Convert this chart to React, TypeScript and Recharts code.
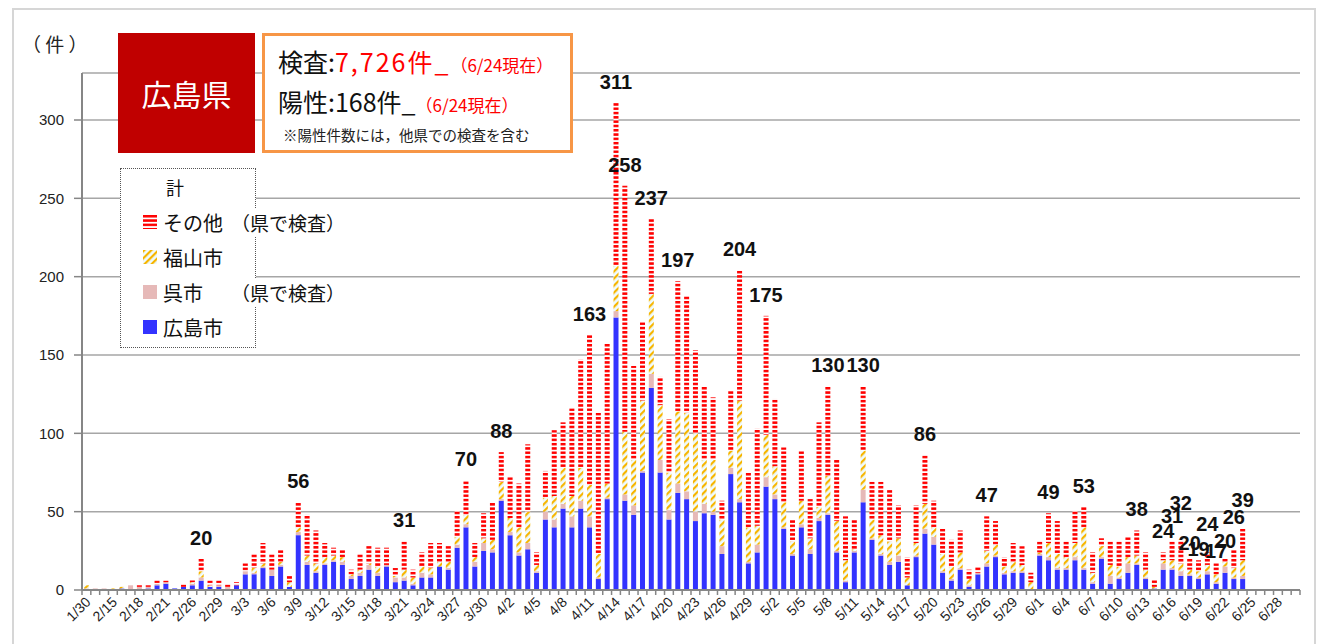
import React from 'react';
import { BarChart, Bar, XAxis, YAxis, CartesianGrid, LabelList } from 'recharts';

// ---------- categories ----------
const monthDays = (m: number, from: number, to: number): string[] => {
  const out: string[] = [];
  for (let d = from; d <= to; d++) out.push(`${m}/${d}`);
  return out;
};
const dates: string[] = [
  '1/30', '2/13', '2/14',
  ...monthDays(2, 15, 21),
  '2/24', '2/25',
  ...monthDays(2, 26, 29),
  ...monthDays(3, 1, 31),
  ...monthDays(4, 1, 30),
  ...monthDays(5, 1, 31),
  ...monthDays(6, 1, 30),
];

// ---------- series (1/30 .. 6/24) ----------
const hiroshima: number[] = [
  0, 0, 0, 0, 1, 0, 0, 1, 3, 4, 1, 2, 3, 6, 2, 2, 0, 3,
  10, 10, 14, 9, 15, 2, 35, 16, 11, 16, 18, 16, 7, 9, 13, 9, 15, 5, 6, 3, 8, 8, 15, 13, 27, 40, 15, 25, 24,
  57, 35, 22, 26, 11, 45, 40, 52, 40, 52, 40, 7, 58, 174, 57, 48, 75, 129, 75, 45, 62, 58, 44, 49, 48, 23, 74, 56, 17, 24,
  66, 58, 39, 22, 40, 23, 44, 48, 24, 5, 24, 56, 32, 22, 16, 18, 3, 21, 36, 29, 11, 6, 13, 2, 10, 15, 21, 10, 11, 11, 0,
  22, 19, 13, 13, 19, 13, 4, 20, 4, 7, 11, 16, 7, 1, 13, 13, 9, 9, 7, 10, 4, 11, 7, 7,
];
const kure: number[] = [
  1, 1, 1, 0, 0, 3, 2, 1, 1, 1, 0, 0, 1, 2, 0, 1, 2, 0,
  2, 1, 1, 4, 1, 0, 2, 2, 1, 1, 1, 2, 2, 2, 3, 2, 1, 3, 2, 1, 3, 2, 0, 1, 2, 2, 3, 5, 2,
  1, 2, 2, 4, 1, 5, 5, 3, 7, 5, 7, 1, 1, 4, 4, 6, 1, 9, 8, 6, 6, 5, 6, 6, 2, 5, 4, 2, 1, 5,
  6, 3, 1, 1, 2, 3, 2, 1, 1, 1, 1, 8, 1, 1, 2, 4, 0, 1, 3, 5, 1, 1, 1, 1, 1, 2, 1, 1, 1, 1, 0,
  1, 2, 1, 1, 2, 1, 1, 1, 5, 1, 6, 1, 1, 0, 4, 1, 3, 1, 1, 2, 1, 4, 1, 2,
];
const fukuyama: number[] = [
  2, 0, 0, 1, 1, 0, 0, 0, 0, 0, 0, 0, 1, 4, 1, 0, 0, 0,
  0, 3, 2, 0, 2, 3, 3, 4, 5, 4, 3, 3, 1, 2, 1, 4, 0, 1, 5, 4, 4, 4, 3, 4, 5, 6, 3, 3, 6,
  11, 9, 16, 20, 4, 9, 15, 23, 13, 21, 20, 15, 9, 29, 40, 29, 45, 51, 35, 24, 46, 50, 50, 28, 33, 17, 11, 63, 22, 12,
  27, 18, 16, 8, 15, 7, 7, 24, 19, 13, 1, 25, 12, 12, 13, 11, 5, 8, 16, 6, 11, 8, 10, 4, 0, 8, 7, 4, 6, 4, 5,
  1, 9, 9, 7, 9, 26, 6, 7, 7, 7, 4, 5, 5, 1, 2, 5, 5, 3, 4, 4, 5, 3, 6, 10,
];
const other: number[] = [
  0, 0, 0, 0, 0, 0, 1, 1, 2, 1, 0, 2, 2, 8, 3, 3, 2, 2,
  5, 9, 13, 10, 8, 4, 16, 26, 21, 9, 5, 5, 3, 10, 11, 12, 11, 5, 18, 5, 9, 16, 12, 10, 17, 22, 9, 16, 24,
  19, 26, 28, 43, 8, 17, 42, 29, 56, 69, 96, 90, 89, 104, 157, 60, 50, 48, 18, 34, 83, 75, 53, 47, 40, 12, 38, 83, 35, 62,
  76, 43, 35, 14, 32, 25, 54, 57, 39, 28, 19, 41, 24, 34, 33, 21, 13, 24, 31, 17, 16, 17, 14, 6, 4, 22, 15, 6, 12, 12, 6,
  7, 19, 21, 10, 21, 13, 13, 5, 15, 16, 13, 16, 11, 5, 5, 12, 15, 7, 7, 8, 7, 2, 12, 20,
];

// dates whose total (計) is printed above the bar
const labeledDates: string[] = [
  '2/27', '3/9', '3/21', '3/28', '4/1', '4/11', '4/14', '4/15', '4/18', '4/21', '4/28', '5/1',
  '5/8', '5/12', '5/19', '5/26', '6/2', '6/6', '6/12', '6/15', '6/16', '6/17', '6/18', '6/19',
  '6/20', '6/21', '6/22', '6/23', '6/24',
];
const yTicks: number[] = [0, 50, 100, 150, 200, 250, 300];

// label nudges (px) used by the original to reduce overlap
const labelNudge: Record<string, number> = {
  '6/16': -4, '6/17': -16, '6/18': 5, '6/19': 10, '6/20': -7, '6/21': 9, '6/22': 3, '6/23': -11, '6/24': -8,
};

const data = dates.map((d, i) => {
  const has = i < hiroshima.length;
  const total = has ? hiroshima[i] + kure[i] + fukuyama[i] + other[i] : null;
  return {
    date: d,
    hiroshima: has ? hiroshima[i] : null,
    kure: has ? kure[i] : null,
    fukuyama: has ? fukuyama[i] : null,
    other: has ? other[i] : null,
    label: labeledDates.includes(d) && total !== null ? `${d}|${total}` : null,
  };
});

// ---------- layout ----------
const W = 1327;
const H = 644;
const PLOT_LEFT = 82;
const PLOT_RIGHT = 1300;
const BAND = (PLOT_RIGHT - PLOT_LEFT) / dates.length;
const CJK = '"Noto Sans CJK JP", "Noto Sans", sans-serif';
const LATIN = '"Liberation Sans", Arial, sans-serif';

const XTick = (props: any) => {
  const { x, y, payload } = props;
  const idx: number = payload?.index ?? props.index ?? 0;
  const half = BAND / 2;
  return (
    <g>
      <line x1={x - half} x2={x - half} y1={y} y2={y + 5} stroke="#868686" strokeWidth={1.5} />
      {idx === dates.length - 1 && (
        <line x1={x + half} x2={x + half} y1={y} y2={y + 5} stroke="#868686" strokeWidth={1.5} />
      )}
      {idx % 3 === 0 && idx <= 135 && (
        <text
          transform={`translate(${x + 5},${y + 13}) rotate(-45)`}
          textAnchor="end"
          fontSize={14}
          fontFamily={LATIN}
          fill="#222"
        >
          {payload.value}
        </text>
      )}
    </g>
  );
};

const TotalLabel = (props: any) => {
  const { value } = props;
  if (value === null || value === undefined || value === '') return null;
  const [d, total] = String(value).split('|');
  if (!total) return null;
  const vb = props.viewBox || {};
  const x = props.x ?? vb.x;
  const y = props.y ?? vb.y;
  const width = props.width ?? vb.width ?? 0;
  const dy = labelNudge[d] ?? 0;
  return (
    <text
      x={Number(x) + Number(width) / 2}
      y={Number(y) - 14 + dy}
      textAnchor="middle"
      fontSize={20}
      fontWeight="bold"
      fontFamily={LATIN}
      fill="#111"
    >
      {total}
    </text>
  );
};

const Marker = ({ fill }: { fill: string }) => (
  <svg width={14} height={14} style={{ display: 'block' }}>
    <rect x={0} y={0} width={14} height={14} fill={fill} />
  </svg>
);

export default function App() {
  const legendRow = (top: number, marker: React.ReactNode, name: string, note?: string) => (
    <div style={{ position: 'absolute', left: 143, top, height: 26, display: 'flex', alignItems: 'center', whiteSpace: 'nowrap' }}>
      <div style={{ width: 14, marginRight: 6 }}>{marker}</div>
      <span style={{ fontSize: 20, fontFamily: CJK, color: '#111', background: '#fff' }}>{name}</span>
      {note && (
        <span style={{ position: 'absolute', left: 88, fontSize: 19, fontFamily: CJK, color: '#111', background: '#fff' }}>{note}</span>
      )}
    </div>
  );

  return (
    <div style={{ position: 'absolute', left: 0, top: 0, width: W, height: H, background: '#fff', overflow: 'hidden' }}>
      {/* pattern definitions */}
      <svg width={0} height={0} style={{ position: 'absolute' }}>
        <defs>
          <pattern id="patRed" patternUnits="userSpaceOnUse" width={8} height={4.3}>
            <rect x={0} y={0} width={8} height={4.3} fill="#ffffff" />
            <rect x={0} y={0} width={8} height={2.5} fill="#ff0000" />
          </pattern>
          <pattern id="patYellow" patternUnits="userSpaceOnUse" width={5} height={5} patternTransform="rotate(45)">
            <rect x={0} y={0} width={5} height={5} fill="#eefbff" />
            <rect x={0} y={0} width={2.2} height={5} fill="#f7b500" />
          </pattern>
        </defs>
      </svg>

      {/* outer frame */}
      <div style={{ position: 'absolute', left: 12, top: 8, width: 1304, height: 660, border: '2px solid #d6d6d6', boxSizing: 'border-box' }} />

      <div style={{ position: 'absolute', left: 0, top: 0 }}>
        <BarChart
          width={W}
          height={H}
          data={data}
          margin={{ top: 73, right: W - PLOT_RIGHT, left: 0, bottom: 0 }}
          barCategoryGap="22%"
        >
          <CartesianGrid vertical={false} stroke="#a6a6a6" strokeWidth={1.5} />
          <XAxis
            dataKey="date"
            interval={0}
            height={H - 590}
            tickSize={0}
            tickMargin={0}
            tickLine={false}
            axisLine={{ stroke: '#868686', strokeWidth: 2 }}
            tick={<XTick />}
          />
          <YAxis
            width={PLOT_LEFT}
            domain={[0, 330]}
            ticks={yTicks}
            tickSize={8}
            tickMargin={10}
            axisLine={{ stroke: '#868686', strokeWidth: 2 }}
            tickLine={{ stroke: '#868686', strokeWidth: 1.5 }}
            tick={{ fontSize: 15, fill: '#222', fontFamily: LATIN }}
          />
          <Bar dataKey="hiroshima" stackId="a" fill="#3333ff" isAnimationActive={false} />
          <Bar dataKey="kure" stackId="a" fill="#e6b9b8" isAnimationActive={false} />
          <Bar dataKey="fukuyama" stackId="a" fill="url(#patYellow)" isAnimationActive={false} />
          <Bar dataKey="other" stackId="a" fill="url(#patRed)" isAnimationActive={false}>
            <LabelList dataKey="label" content={<TotalLabel />} />
          </Bar>
        </BarChart>
      </div>

      {/* unit */}
      <div style={{ position: 'absolute', left: 22, top: 30, fontSize: 19, fontFamily: CJK, color: '#222', whiteSpace: 'pre' }}>
        {'（ 件 ）'}
      </div>

      {/* prefecture box */}
      <div
        style={{
          position: 'absolute', left: 118, top: 33, width: 137, height: 120, background: '#c00000',
          color: '#fff', fontSize: 30, fontFamily: CJK, display: 'flex', alignItems: 'center', justifyContent: 'center',
        }}
      >
        広島県
      </div>

      {/* info box */}
      <div
        style={{
          position: 'absolute', left: 262, top: 33, width: 311, height: 120, background: '#fff',
          border: '3px solid #f79646', boxSizing: 'border-box', fontFamily: CJK, color: '#111',
        }}
      >
        <div style={{ position: 'absolute', left: 13, top: 6, whiteSpace: 'nowrap', fontSize: 25, lineHeight: '38px' }}>
          検査:<span style={{ color: '#ff0000', letterSpacing: 2 }}>7,726件_</span>
          <span style={{ color: '#ff0000', fontSize: 17 }}>（6/24現在）</span>
        </div>
        <div style={{ position: 'absolute', left: 13, top: 46, whiteSpace: 'nowrap', fontSize: 25, lineHeight: '38px' }}>
          陽性:168件_<span style={{ color: '#ff0000', fontSize: 17 }}>（6/24現在）</span>
        </div>
        <div style={{ position: 'absolute', left: 18, top: 89, whiteSpace: 'nowrap', fontSize: 14.5, lineHeight: '20px', color: '#222' }}>
          ※陽性件数には，他県での検査を含む
        </div>
      </div>

      {/* legend */}
      <div
        style={{
          position: 'absolute', left: 120, top: 168, width: 136, height: 180, background: '#fff',
          border: '1px dotted #555', boxSizing: 'border-box',
        }}
      />
      <div style={{ position: 'absolute', left: 166, top: 174, fontSize: 18, fontFamily: CJK, color: '#111' }}>計</div>
      {legendRow(209, <Marker fill="url(#patRed)" />, 'その他', '（県で検査）')}
      {legendRow(244, <Marker fill="url(#patYellow)" />, '福山市')}
      {legendRow(279, <Marker fill="#e6b9b8" />, '呉市', '（県で検査）')}
      {legendRow(314, <Marker fill="#3333ff" />, '広島市')}
    </div>
  );
}
